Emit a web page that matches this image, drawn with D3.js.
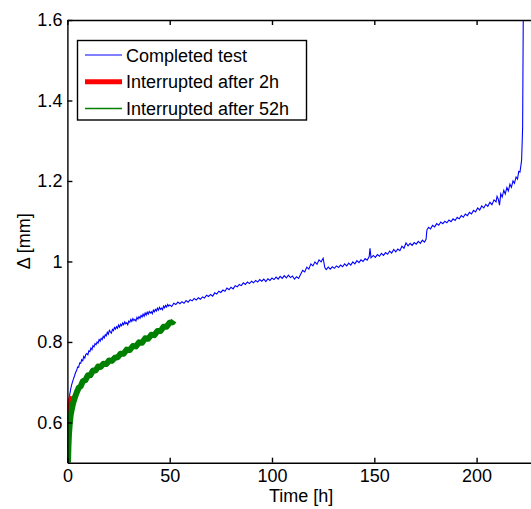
<!DOCTYPE html>
<html>
<head>
<meta charset="utf-8">
<script src="https://cdn.jsdelivr.net/npm/d3@7"></script>
<style>
  body { margin: 0; background: #fff; }
  svg text { font-family: "Liberation Sans", Arial, sans-serif; }
</style>
</head>
<body>
<div id="chart"></div>
<script>
// data: [time h, delta mm]
var completedTest = [
  [1.0,0.665],[1.5,0.680],[2.0,0.692],[2.5,0.701],[3.0,0.709],[3.5,0.716],[4.0,0.724],[4.5,0.729],
  [5.0,0.738],[5.5,0.737],[6.0,0.748],[6.5,0.747],[7.0,0.756],[7.5,0.753],[8.0,0.764],[8.5,0.760],
  [9.0,0.769],[9.5,0.771],[10.0,0.768],[10.5,0.778],[11.0,0.776],[11.5,0.785],[12.0,0.781],[12.5,0.791],
  [13.0,0.788],[13.5,0.796],[14.0,0.793],[14.5,0.800],[15.0,0.797],[15.5,0.806],[16.0,0.802],[16.5,0.809],
  [17.0,0.806],[17.5,0.814],[18.0,0.810],[18.5,0.818],[19.0,0.815],[19.5,0.824],[20.0,0.819],[20.5,0.829],
  [21.0,0.825],[21.5,0.822],[22.0,0.831],[22.5,0.828],[23.0,0.836],[23.5,0.832],[24.0,0.838],[24.5,0.834],
  [25.0,0.842],[25.5,0.837],[26.0,0.844],[26.5,0.840],[27.0,0.847],[27.5,0.843],[28.0,0.850],[28.5,0.845],
  [29.0,0.848],[29.5,0.843],[30.0,0.852],[30.5,0.849],[31.0,0.856],[31.5,0.851],[32.0,0.858],[32.5,0.853],
  [33.0,0.856],[33.5,0.852],[34.0,0.861],[34.5,0.857],[35.0,0.863],[35.5,0.859],[36.0,0.866],[36.5,0.862],
  [37.0,0.869],[37.5,0.864],[38.0,0.872],[38.5,0.867],[39.0,0.874],[39.5,0.869],[40.0,0.876],[40.5,0.872],
  [41.0,0.875],[41.5,0.870],[42.0,0.879],[42.5,0.875],[43.0,0.881],[43.5,0.877],[44.0,0.884],[44.5,0.879],
  [45.0,0.886],[45.5,0.881],[46.0,0.884],[46.5,0.880],[47.0,0.889],[47.5,0.885],[48.0,0.891],[48.5,0.887],
  [49.0,0.893],[49.5,0.889],[50.0,0.892],[51.0,0.888],[52.0,0.896],[53.0,0.893],[54.0,0.899],[55.0,0.895],
  [56.0,0.900],[57.0,0.896],[58.0,0.903],[59.0,0.899],[60.0,0.905],[61.0,0.902],[62.0,0.908],[63.0,0.904],
  [64.0,0.910],[65.0,0.906],[66.0,0.912],[67.0,0.909],[68.0,0.916],[69.0,0.913],[70.0,0.918],[71.0,0.914],
  [72.0,0.922],[73.0,0.919],[74.0,0.926],[75.0,0.923],[76.0,0.929],[77.0,0.926],[78.0,0.934],[79.0,0.930],
  [80.0,0.936],[81.0,0.932],[82.0,0.940],[83.0,0.937],[84.0,0.943],[85.0,0.940],[86.0,0.947],[87.0,0.943],
  [88.0,0.949],[89.0,0.945],[90.0,0.951],[91.0,0.947],[92.0,0.953],[93.0,0.949],[94.0,0.955],[95.0,0.951],
  [96.0,0.956],[97.0,0.950],[98.0,0.957],[99.0,0.953],[100.0,0.959],[101.0,0.955],[102.0,0.961],[103.0,0.956],
  [104.0,0.963],[105.0,0.958],[106.0,0.965],[107.0,0.959],[108.0,0.966],[109.0,0.960],[110.0,0.964],[111.0,0.956],
  [112.0,0.962],[113.0,0.958],[114.0,0.968],[115.0,0.978],[116.0,0.974],[117.0,0.986],[118.0,0.981],[119.0,0.994],
  [120.0,0.989],[121.0,0.999],[122.0,0.993],[123.0,1.004],[124.0,0.999],[125.0,1.008],[125.8,0.985],[126.5,0.980],
  [127.5,0.986],[128.5,0.981],[129.5,0.987],[130.5,0.983],[131.5,0.989],[132.5,0.985],[133.5,0.991],[134.5,0.987],
  [135.5,0.994],[136.5,0.989],[137.5,0.996],[138.5,0.991],[139.5,0.999],[140.5,0.994],[141.5,1.002],[142.5,0.997],
  [143.5,1.004],[144.5,1.000],[145.5,1.007],[146.5,1.003],[147.5,1.012],[147.9,1.033],[148.4,1.009],[149.5,1.015],
  [150.5,1.010],[151.5,1.017],[152.5,1.013],[153.5,1.020],[154.5,1.015],[155.5,1.022],[156.5,1.018],[157.5,1.026],
  [158.5,1.021],[159.5,1.030],[160.5,1.024],[161.5,1.031],[162.5,1.027],[163.5,1.038],[164.5,1.033],[165.5,1.046],
  [166.5,1.039],[167.5,1.045],[168.5,1.040],[169.5,1.047],[170.5,1.043],[171.5,1.050],[172.5,1.045],[173.5,1.053],
  [174.5,1.048],[175.3,1.055],[175.7,1.078],[176.5,1.085],[177.5,1.081],[178.5,1.090],[179.5,1.086],[180.5,1.094],
  [181.5,1.090],[182.5,1.098],[183.5,1.094],[184.5,1.100],[185.5,1.096],[186.5,1.103],[187.5,1.099],[188.5,1.106],
  [189.5,1.102],[190.5,1.110],[191.5,1.106],[192.5,1.114],[193.5,1.110],[194.5,1.118],[195.5,1.114],[196.5,1.122],
  [197.5,1.118],[198.5,1.127],[199.5,1.123],[200.5,1.133],[201.5,1.128],[202.5,1.138],[203.5,1.133],[204.5,1.142],
  [205.5,1.137],[206.5,1.147],[207.5,1.141],[208.5,1.153],[209.5,1.148],[210.0,1.162],[210.6,1.155],[211.2,1.140],
  [211.8,1.168],[212.5,1.160],[213.3,1.177],[214.0,1.168],[214.8,1.184],[215.5,1.175],[216.3,1.192],[217.0,1.184],
  [217.8,1.200],[218.5,1.194],[219.3,1.210],[220.0,1.205],[220.6,1.224],[221.2,1.222],[221.7,1.240],[222.0,1.252],
  [222.3,1.300],[222.5,1.335],[222.8,1.600],[223.0,1.750]
];
var interrupted2h = [
  [0.05,0.50],[0.1,0.55],[0.25,0.59],[0.5,0.62],[0.9,0.64],[1.4,0.655],[2.0,0.665]
];
var interrupted52h = [
  [0.3,0.50],[0.5,0.54],[0.8,0.574],[1.2,0.600],[1.6,0.618],[2.1,0.632],[2.8,0.648],[3.7,0.663],
  [4.6,0.675],[5.5,0.686],[6.5,0.690],[7.6,0.703],[8.8,0.705],[10.0,0.717],[11.2,0.717],[12.5,0.729],
  [13.8,0.729],[15.0,0.739],[16.3,0.738],[17.6,0.746],[19.0,0.745],[20.4,0.754],[21.8,0.753],[23.2,0.761],
  [24.6,0.762],[26.0,0.771],[27.5,0.771],[29.0,0.781],[30.5,0.780],[32.0,0.790],[33.5,0.789],[35.0,0.799],
  [36.5,0.798],[38.0,0.809],[39.5,0.808],[41.0,0.818],[42.5,0.817],[44.0,0.827],[45.5,0.827],[47.0,0.838],
  [48.5,0.838],[50.0,0.848],[51.5,0.849],[52.0,0.853]
];
var seriesNames = ["Completed test", "Interrupted after 2h", "Interrupted after 52h"];
var seriesColors = ["#0000ff", "#ff0000", "#008000"];
var xTicks = [0, 50, 100, 150, 200];
var yTicks = [0.6, 0.8, 1, 1.2, 1.4, 1.6];

var width = 531, height = 509;
var margin = {top: 20, right: -1, bottom: 46, left: 67.4};

var svg = d3.select("#chart").append("svg")
    .attr("width", width)
    .attr("height", height);

var x = d3.scaleLinear().domain([0, 227]).range([margin.left, margin.left + 227 * 2.046]);
var y = d3.scaleLinear().domain([0.5, 1.6]).range([height - margin.bottom - 0.3, margin.top]);

svg.append("clipPath").attr("id", "clip")
  .append("rect")
    .attr("x", x(0)).attr("y", y(1.6))
    .attr("width", x(227) - x(0)).attr("height", y(0.5) - y(1.6));

var line = d3.line()
    .x(function(d) { return x(d[0]); })
    .y(function(d) { return y(d[1]); });

var plot = svg.append("g").attr("clip-path", "url(#clip)");

plot.append("path").datum(completedTest)
    .attr("d", line).attr("fill", "none")
    .attr("stroke", seriesColors[0]).attr("stroke-width", 1.1);
plot.append("path").datum(interrupted2h)
    .attr("d", line).attr("fill", "none")
    .attr("stroke", seriesColors[1]).attr("stroke-width", 5);
plot.append("path").datum(interrupted52h)
    .attr("d", line).attr("fill", "none")
    .attr("stroke", seriesColors[2]).attr("stroke-width", 6)
    .attr("stroke-linejoin", "round");

// axes, ticks pointing inwards like matlab
var fmt = function(d) { return d3.format("")(d); };

svg.append("g")
    .attr("transform", "translate(0," + y(0.5) + ")")
    .call(d3.axisBottom(x).tickValues(xTicks).tickSize(-5).tickPadding(6.5).tickSizeOuter(0).tickFormat(fmt));
svg.append("g")
    .attr("transform", "translate(0," + y(1.6) + ")")
    .call(d3.axisTop(x).tickValues(xTicks).tickSize(-5).tickSizeOuter(0).tickFormat(""));
svg.append("g")
    .attr("transform", "translate(" + x(0) + ",0)")
    .call(d3.axisLeft(y).tickValues(yTicks).tickSize(-5).tickPadding(5).tickSizeOuter(0).tickFormat(fmt));

svg.selectAll(".domain").attr("stroke", "#000").attr("stroke-width", 1.4);
svg.selectAll(".tick line").attr("stroke", "#000").attr("stroke-width", 1.4);
svg.selectAll(".tick text").attr("fill", "#000").style("font-size", "18px");

svg.append("text")
    .attr("x", (x(0) + 536) / 2 - 0.5)
    .attr("y", 502)
    .attr("text-anchor", "middle")
    .style("font-size", "18px")
    .text("Time [h]");

svg.append("text")
    .attr("transform", "translate(30," + ((y(0.5) + y(1.6)) / 2) + ") rotate(-90)")
    .attr("text-anchor", "middle")
    .style("font-size", "18px")
    .text("\u0394 [mm]");

// legend
var legend = svg.append("g");
legend.append("rect")
    .attr("x", 77.5).attr("y", 40.5)
    .attr("width", 229).attr("height", 79.5)
    .attr("fill", "#fff").attr("stroke", "#000").attr("stroke-width", 1.4);

var legendWidths = [1, 5, 1.5];
seriesNames.forEach(function(name, i) {
    var ly = 55 + i * 26.7;
    legend.append("line")
        .attr("x1", 85).attr("x2", 122)
        .attr("y1", ly).attr("y2", ly)
        .attr("stroke", seriesColors[i]).attr("stroke-width", legendWidths[i]);
    legend.append("text")
        .attr("x", 126).attr("y", ly + 6.5)
        .style("font-size", "18px")
        .text(name);
});
</script>
</body>
</html>
